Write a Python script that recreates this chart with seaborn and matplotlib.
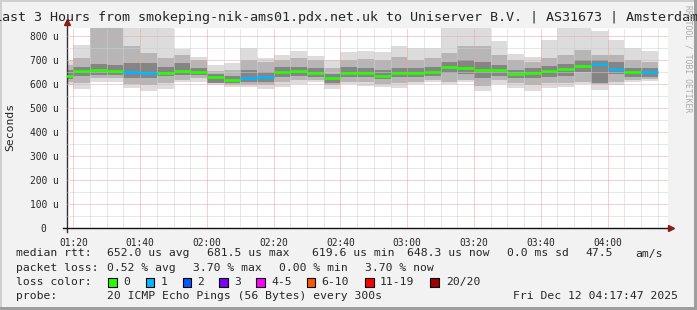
import numpy as np
import pandas as pd
import matplotlib
matplotlib.use("Agg")
import matplotlib.pyplot as plt
from matplotlib.patches import Rectangle
import seaborn as sns

# ---------------- data (values in microseconds) ----------------
bar_start = ["01:15", "01:20", "01:25", "01:30", "01:35", "01:40", "01:45", "01:50", "01:55",
             "02:00", "02:05", "02:10", "02:15", "02:20", "02:25", "02:30", "02:35", "02:40",
             "02:45", "02:50", "02:55", "03:00", "03:05", "03:10", "03:15", "03:20", "03:25",
             "03:30", "03:35", "03:40", "03:45", "03:50", "03:55", "04:00", "04:05", "04:10"]
median_us = [633, 654, 660, 654, 651, 647, 647, 654, 650, 629, 617, 625, 629, 650, 654, 647, 625, 647,
             647, 633, 647, 647, 651, 671, 667, 660, 660, 643, 647, 654, 664, 676, 681.5, 664, 651, 648.3]
loss_pings = [0, 0, 0, 0, 1, 1, 0, 0, 0, 0, 0, 1, 1, 0, 0, 0, 0, 0,
              0, 0, 0, 0, 0, 0, 0, 0, 0, 0, 0, 0, 0, 0, 1, 1, 0, 1]
smoke_min = [596, 579, 607, 610, 585, 571, 579, 610, 607, 596, 589, 589, 579, 589, 599, 610, 578, 599,
             593, 589, 585, 599, 607, 599, 607, 571, 599, 585, 571, 585, 589, 599, 575, 596, 610, 612]
smoke_max = [700, 762, 900, 900, 900, 900, 900, 746, 714, 679, 689, 751, 707, 721, 738, 718, 699, 731,
             739, 731, 760, 749, 751, 900, 900, 900, 779, 724, 711, 783, 900, 900, 821, 783, 749, 738]
smoke_mid_lo = [610, 603, 624, 624, 599, 596, 603, 617, 624, 603, 596, 596, 596, 610, 617, 617, 596, 610,
                610, 600, 603, 610, 617, 610, 615, 590, 615, 603, 596, 603, 603, 610, 600, 610, 617, 620]
smoke_mid_hi = [679, 707, 900, 900, 756, 728, 707, 721, 700, 655, 660, 700, 690, 700, 710, 700, 665, 700,
                705, 700, 712, 700, 710, 730, 760, 760, 720, 700, 690, 710, 720, 740, 720, 720, 700, 690]
smoke_in_lo = [620, 631, 637, 637, 624, 624, 631, 637, 637, 606, 603, 610, 610, 630, 635, 630, 605, 630,
               630, 620, 628, 630, 635, 645, 640, 625, 635, 625, 625, 630, 635, 650, 605, 640, 630, 630]
smoke_in_hi = [658, 672, 682, 679, 686, 686, 672, 686, 665, 640, 632, 660, 650, 670, 672, 665, 640, 670,
               665, 660, 665, 665, 672, 690, 700, 690, 680, 660, 665, 675, 685, 700, 700, 690, 668, 665]

time_ticks = ["01:20", "01:40", "02:00", "02:20", "02:40", "03:00", "03:20", "03:40", "04:00"]
y_ticks = [0, 100, 200, 300, 400, 500, 600, 700, 800]
y_tick_labels = ["0  ", "100 u", "200 u", "300 u", "400 u", "500 u", "600 u", "700 u", "800 u"]

loss_labels = ["0", "1", "2", "3", "4-5", "6-10", "11-19", "20/20"]
loss_colors = ["#26ff00", "#00b8ff", "#0059ff", "#7e00ff", "#ff00ff", "#ff5500", "#ff0000", "#a10000"]

title = "Last 3 Hours from smokeping-nik-ams01.pdx.net.uk to Uniserver B.V. | AS31673 | Amsterdam"

# ---------------- style ----------------
sns.set_style("white")
plt.rcParams["font.family"] = ["DejaVu Sans Mono"]
MONO = "DejaVu Sans Mono"

W, H = 697, 310
fig = plt.figure(figsize=(W / 100, H / 100), dpi=100, facecolor="#f2f2f2")
ax = fig.add_axes([67 / W, (H - 228) / H, (668 - 67) / W, (228 - 28) / H])
ax.set_facecolor("white")

def to_min(s):
    h, m = s.split(":")
    return int(h) * 60 + int(m)

x0 = [to_min(s) for s in bar_start]
step = 5

# smoke bands
for lo, hi, col in [(smoke_min, smoke_max, "#dcdcdc"),
                    (smoke_mid_lo, smoke_mid_hi, "#b6b6b6"),
                    (smoke_in_lo, smoke_in_hi, "#858585")]:
    ax.bar(x0, np.array(hi) - np.array(lo), bottom=lo, width=step, align="edge",
           color=col, linewidth=0, zorder=1)

# median segments coloured by loss (seaborn)
rows = []
for i, (s, m, l) in enumerate(zip(x0, median_us, loss_pings)):
    rows.append({"t": s, "median": m, "seg": i, "loss": loss_labels[l]})
    rows.append({"t": s + step, "median": m, "seg": i, "loss": loss_labels[l]})
df = pd.DataFrame(rows)
pal = dict(zip(loss_labels, loss_colors))
sns.lineplot(data=df, x="t", y="median", hue="loss", units="seg", estimator=None,
             palette=pal, linewidth=1.9, legend=False, ax=ax, zorder=4,
             solid_capstyle="butt")

xmin = 78.1
xmax = xmin + 180
ymax = 833
ax.set_xlim(xmin, xmax)
ax.set_ylim(0, ymax)

# grid
for v in np.arange(50, ymax, 50):
    major = (v % 100 == 0)
    ax.axhline(v, color="#f3a0a0" if major else "#d0d0d0", lw=0.72,
               linestyle=(0, (1, 1)), zorder=3)
for v in np.arange(80, xmax, 5):
    major = ((v - 80) % 20 == 0)
    ax.axvline(v, color="#f3a0a0" if major else "#d0d0d0", lw=0.72,
               linestyle=(0, (1, 1)), zorder=3)

ax.set_xticks([to_min(s) for s in time_ticks])
ax.set_xticklabels(time_ticks, fontsize=6.9, family=MONO)
ax.set_yticks(y_ticks)
ax.set_yticklabels(y_tick_labels, fontsize=6.9, family=MONO)
ax.tick_params(axis="both", length=3, width=0.8, color="#333333", pad=3, direction="out")
ax.tick_params(axis="x", pad=4)
ax.set_xlabel("")
ax.set_ylabel("")

for sp in ["top", "right"]:
    ax.spines[sp].set_visible(False)
ax.spines["left"].set_color("#333333")
ax.spines["bottom"].set_color("#111111")
ax.spines["left"].set_linewidth(1.0)
ax.spines["bottom"].set_linewidth(1.0)
ax.spines["left"].set_bounds(-4 / 0.24, ymax + 5 / 0.24)
ax.spines["bottom"].set_bounds(xmin - 4 / 3.333, xmax + 3 / 3.333)
ax.plot([xmin], [ymax + 6 / 0.24], marker="^", color="#8b1a1a", ms=5, clip_on=False, zorder=6)
ax.plot([xmax + 3 / 3.333], [0], marker=">", color="#8b1a1a", ms=5, clip_on=False, zorder=6)

# texts
def ftext(x, y, s, **kw):
    kw.setdefault("family", MONO)
    kw.setdefault("fontsize", 8.2)
    kw.setdefault("va", "center")
    fig.text(x / W, 1 - y / H, s, **kw)

ftext(346, 18, title, fontsize=9.6, ha="center")
ftext(10, 127, "Seconds", rotation=90, ha="center", fontsize=8.2)
ftext(688, 5, "RRDTOOL / TOBI OETIKER", rotation=270, ha="center", va="top",
      fontsize=5.8, color="#ababab")

l1 = [("median rtt:", 16), ("652.0 us avg", 107), ("681.5 us max", 207), ("619.6 us min", 312),
      ("648.3 us now", 407), ("0.0 ms sd", 507), ("47.5", 585), ("am/s", 635)]
for s, x in l1:
    ftext(x, 253.5, s)
l2 = [("packet loss:", 16), ("0.52 % avg", 107), ("3.70 % max", 193), ("0.00 % min", 279),
      ("3.70 % now", 365)]
for s, x in l2:
    ftext(x, 268, s)
ftext(16, 282, "loss color:")
box_x = [108.3, 145.7, 182.7, 219.3, 256, 306.7, 365, 430]
lab_x = [123.3, 161, 197.3, 234.3, 271, 321.7, 380, 446]
for bx, lx, lab, col in zip(box_x, lab_x, loss_labels, loss_colors):
    fig.patches.append(Rectangle((bx / W, 1 - 286.5 / H), 8.5 / W, 8.5 / H,
                                 transform=fig.transFigure, facecolor=col,
                                 edgecolor="black", linewidth=0.8))
    ftext(lx, 282, lab)
ftext(16, 296, "probe:")
ftext(107, 296, "20 ICMP Echo Pings (56 Bytes) every 300s")
ftext(513, 296, "Fri Dec 12 04:17:47 2025")

# frame shading
fig.patches.append(Rectangle((0, 0), 2 / W, 1, transform=fig.transFigure, fc="#cfcfcf", ec="none"))
fig.patches.append(Rectangle((0, 1 - 2 / H), 1, 2 / H, transform=fig.transFigure, fc="#cfcfcf", ec="none"))
fig.patches.append(Rectangle((1 - 3 / W, 0), 3 / W, 1, transform=fig.transFigure, fc="#9e9e9e", ec="none"))
fig.patches.append(Rectangle((0, 0), 1, 3 / H, transform=fig.transFigure, fc="#9e9e9e", ec="none"))

fig.savefig("out.png", dpi=100, facecolor=fig.get_facecolor())
